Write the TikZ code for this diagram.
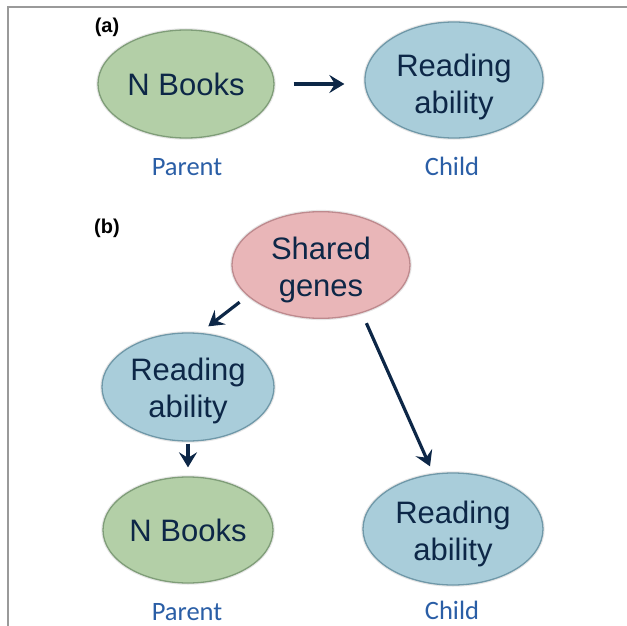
\documentclass[tikz,border=0pt]{standalone}
\usepackage{fontspec}
\setmainfont{Liberation Sans}
\newfontfamily\calib{Carlito}
\usetikzlibrary{arrows.meta,shapes.geometric}
\definecolor{navy}{HTML}{0D2747}
\definecolor{lblblue}{HTML}{2A5EA6}
\definecolor{gfill}{HTML}{B3CFA7}
\definecolor{gdraw}{HTML}{7F9D78}
\definecolor{bfill}{HTML}{A9CDDA}
\definecolor{bdraw}{HTML}{6F98A8}
\definecolor{pfill}{HTML}{E9B6B8}
\definecolor{pdraw}{HTML}{BE8A8E}
\definecolor{framegray}{HTML}{9A9A9A}
\newcommand{\lift}[1]{\rule{0pt}{#1pt}}
\begin{document}
\begin{tikzpicture}[x=1pt,y=-1pt,
  ell/.style={ellipse, inner sep=0pt, line width=1.3pt, minimum width=176pt, minimum height=110pt,
    font=\fontsize{31}{37}\selectfont, text=navy, align=center,
    preaction={draw=black!45, line width=3.5pt, draw opacity=0.22}},
  gell/.style={ell, fill=gfill, draw=gdraw},
  bell/.style={ell, fill=bfill, draw=bdraw},
  pell/.style={ell, fill=pfill, draw=pdraw},
  role/.style={font=\calib\fontsize{26.5}{30}\selectfont, text=lblblue, anchor=base, inner sep=0pt},
  panel/.style={font=\bfseries\fontsize{20}{24}\selectfont, text=black},
  arr/.style={line width=3.2pt, draw=navy, -{Stealth[length=15pt,width=18pt,inset=5.5pt]}}]
\useasboundingbox (0,0) rectangle (627,626);
\draw[framegray, line width=1.6pt] (627,7) -- (8,7) -- (8,626);

\node[panel] (pa) at (107,27) {(a)};
\node[gell, minimum height=108pt] (nb1) at (186,84) {N Books};
\node[bell, minimum width=178pt, minimum height=116pt] (ra1) at (454,80) {\lift{36}Reading\\ability};
\node[role] (par1) at (187,175) {Parent};
\node[role] (ch1) at (452,175) {Child};
\draw[arr, shorten <=19pt, shorten >=20pt] (nb1.east) -- (nb1.east -| ra1.west);

\node[panel] (pb) at (107,228) {(b)};
\node[pell, minimum width=178pt, minimum height=106pt] (sg) at (321,265) {\lift{32}Shared\\genes};
\node[bell, minimum width=172pt, minimum height=108pt] (ra2) at (188,387) {\lift{31}Reading\\ability};
\node[gell, minimum width=170pt, minimum height=106pt] (nb2) at (188,530) {N Books};
\node[bell, minimum width=180pt, minimum height=112pt] (ra3) at (453,529) {\lift{32}Reading\\ability};
\node[role] (par2) at (187,620) {Parent};
\node[role] (ch2) at (452,619) {Child};

\draw[arr] ([shift={(-18,-1)}]sg.south west) -- ([shift={(-41,-22)}]ra2.north east);
\draw[arr, shorten <=2pt, shorten >=9pt] (ra2.south) -- (nb2.north);
\draw[arr] ([shift={(-18,20)}]sg.south east) -- ([shift={(-23,-6)}]ra3.north);
\end{tikzpicture}
\end{document}
